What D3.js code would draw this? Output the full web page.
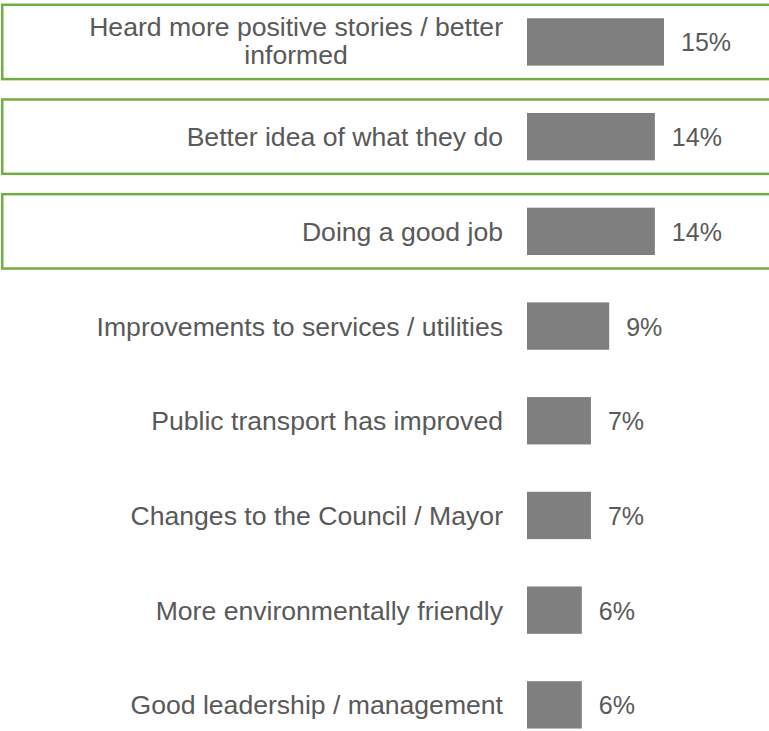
<!DOCTYPE html>
<html>
<head>
<meta charset="utf-8">
<script src="https://cdn.jsdelivr.net/npm/d3@7"></script>
<style>
  html, body { margin: 0; padding: 0; background: #ffffff; }
  svg { display: block; }
  text { font-family: "Liberation Sans", Arial, sans-serif; }
</style>
</head>
<body>
<svg id="chart" width="769" height="731"></svg>
<script>
// Reasons for a more positive view (share of respondents, %)
const categories = [
  ["Heard more positive stories / better", "informed"],
  ["Better idea of what they do"],
  ["Doing a good job"],
  ["Improvements to services / utilities"],
  ["Public transport has improved"],
  ["Changes to the Council / Mayor"],
  ["More environmentally friendly"],
  ["Good leadership / management"]
];
const values = [15, 14, 14, 9, 7, 7, 6, 6];
const valueLabels = ["15%", "14%", "14%", "9%", "7%", "7%", "6%", "6%"];
const highlightedCount = 3; // top reasons get an outlined box

const W = 769, H = 731;
const barColor = "#7f7f7f";
const textColor = "#595959";
const boxColor = "#70ad47";
const fontSize = 26.6;
const valueFontSize = 25;

const svg = d3.select("#chart");

const keys = categories.map((c, i) => i);
const y = d3.scaleBand()
  .domain(keys)
  .range([-5.4, 752.2])
  .paddingInner(0.5)
  .paddingOuter(0.25);

const x = d3.scaleLinear()
  .domain([0, 15])
  .range([527, 664]);

// Highlight boxes behind the leading rows
svg.append("g")
  .selectAll("rect")
  .data(keys.slice(0, highlightedCount))
  .join("rect")
  .attr("x", 2.25)
  .attr("y", d => y(d) - 13.5)
  .attr("width", W + 20)
  .attr("height", y.bandwidth() + 27)
  .attr("fill", "none")
  .attr("stroke", boxColor)
  .attr("stroke-width", 2.5);

// Bars
svg.append("g")
  .selectAll("rect")
  .data(keys)
  .join("rect")
  .attr("x", x(0))
  .attr("y", d => y(d))
  .attr("width", d => x(values[d]) - x(0))
  .attr("height", y.bandwidth())
  .attr("fill", barColor);

// Category labels, right-aligned to the left of the bars
const labelRight = 503;
const lineGap = 28.5;
const labels = svg.append("g")
  .selectAll("text")
  .data(keys)
  .join("text")
  .attr("fill", textColor)
  .attr("font-size", fontSize);

labels.each(function(d) {
  const lines = categories[d];
  const t = d3.select(this);
  const cy = y(d) + y.bandwidth() / 2;
  if (lines.length === 1) {
    t.attr("x", labelRight)
     .attr("y", cy + fontSize * 0.36)
     .attr("text-anchor", "end")
     .text(lines[0]);
  } else {
    // multi-line label: lines centred within a block whose right edge meets labelRight
    t.attr("text-anchor", "middle");
    const spans = t.selectAll("tspan")
      .data(lines)
      .join("tspan")
      .text(s => s);
    let maxW = 0;
    spans.each(function() { maxW = Math.max(maxW, this.getComputedTextLength()); });
    const cx = labelRight - maxW / 2;
    const first = cy + fontSize * 0.36 - (lines.length - 1) * lineGap / 2 - 1.5;
    spans.attr("x", cx).attr("y", (s, i) => first + i * lineGap);
  }
});

// Value labels at bar ends
svg.append("g")
  .selectAll("text")
  .data(keys)
  .join("text")
  .attr("x", d => x(values[d]) + 17)
  .attr("y", d => y(d) + y.bandwidth() / 2 + valueFontSize * 0.36 + 0.5)
  .attr("fill", textColor)
  .attr("font-size", valueFontSize)
  .text(d => valueLabels[d]);
</script>
</body>
</html>
